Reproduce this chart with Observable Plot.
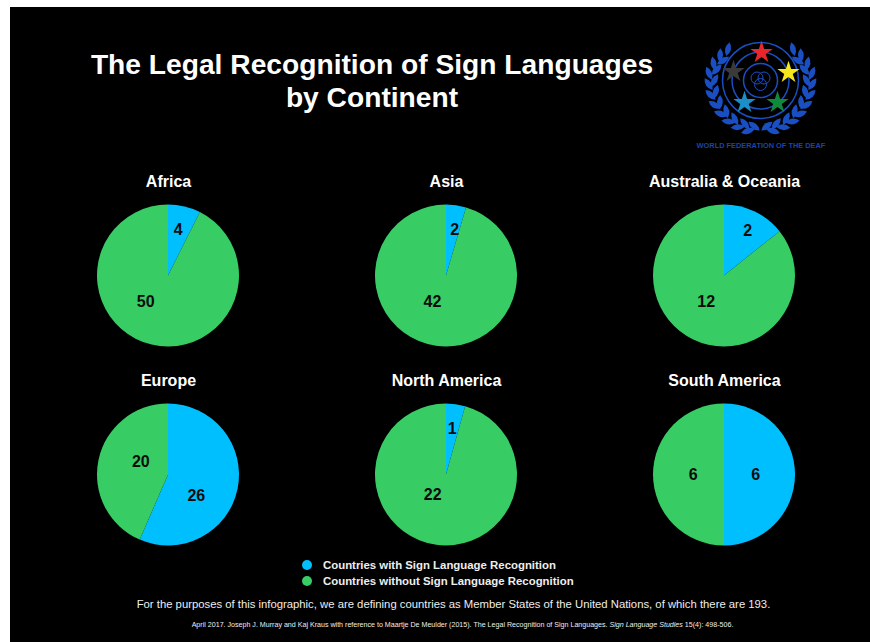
<!DOCTYPE html>
<html>
<head>
<meta charset="utf-8">
<script src="https://cdn.jsdelivr.net/npm/d3@7"></script>
<script src="https://cdn.jsdelivr.net/npm/@observablehq/plot@0.6"></script>
<style>
  html, body { margin: 0; background: #fff; }
  body { width: 870px; height: 642px; overflow: hidden; position: relative; font-family: "Liberation Sans", Arial, sans-serif; }
  #panel { position: absolute; left: 10px; top: 7px; width: 860px; height: 635px; background: #000; }
  #title { position: absolute; left: 60px; width: 624px; top: 48px; text-align: center; color: #fff; font-weight: bold; font-size: 28.2px; line-height: 33px; }
  #logo, #pies { position: absolute; }
  #logo { left: 680px; top: 20px; }
  #pies { left: 0; top: 166px; }
  .legend { position: absolute; left: 323px; color: #eee; font-weight: bold; font-size: 11.4px; line-height: 14px; white-space: nowrap; }
  .swatch { position: absolute; left: 302px; width: 10px; height: 10px; border-radius: 50%; }
  .note { position: absolute; left: 0; width: 907px; text-align: center; color: #eee; white-space: nowrap; }
</style>
</head>
<body>
<div id="panel"></div>
<div id="title">The Legal Recognition of Sign Languages<br>by Continent</div>
<div id="logo"></div>
<div id="pies"></div>
<div id="legend"></div>
<div class="note" style="top:597px;font-size:11.3px;line-height:15px;">For the purposes of this infographic, we are defining countries as Member States of the United Nations, of which there are 193.</div>
<div class="note" style="left:9px;top:620px;font-size:7.1px;line-height:10px;">April 2017. Joseph J. Murray and Kaj Kraus with reference to Maartje De Meulder (2015). The Legal Recognition of Sign Languages. <i>Sign Language Studies</i> 15(4): 498-506.</div>
<script>
// Country counts per continent
const continents = ["Africa", "Asia", "Australia & Oceania", "Europe", "North America", "South America"];
const withRecognition = [4, 2, 2, 26, 1, 6];
const withoutRecognition = [50, 42, 12, 20, 22, 6];
const statuses = ["Countries with Sign Language Recognition", "Countries without Sign Language Recognition"];
const statusColors = ["#00bfff", "#37cd64"];

// Hand placement of the count labels: bearing in degrees and share of the radius
const withLabelBearing = [12, 10, 27, 127, 7, 90];
const withLabelReach = [0.66, 0.66, 0.72, 0.49, 0.65, 0.44];
const withoutLabelBearing = [221, 208, 215, 295, 215, 270];
const withoutLabelReach = [0.49, 0.42, 0.45, 0.43, 0.34, 0.44];

const COLS = 3;
const pie = d3.pie().sort(null);
const slices = continents.flatMap((continent, i) => {
  const arcs = pie([withRecognition[i], withoutRecognition[i]]);
  const bearings = [withLabelBearing[i], withoutLabelBearing[i]];
  const reaches = [withLabelReach[i], withoutLabelReach[i]];
  return arcs.map((a, j) => {
    const t = bearings[j] * Math.PI / 180;
    return {
      continent, status: statuses[j], count: a.value,
      startAngle: a.startAngle, endAngle: a.endAngle,
      col: i % COLS, row: Math.floor(i / COLS),
      labelX: reaches[j] * Math.sin(t), labelY: reaches[j] * Math.cos(t)
    };
  });
});
const heads = continents.map((continent, i) => ({continent, col: i % COLS, row: Math.floor(i / COLS)}));

// Plot has no pie mark, so the wedges are rendered from a dot mark's channels
function wedges(index, scales, values) {
  const radius = Math.abs(scales.x(1) - scales.x(0));
  const arc = d3.arc().innerRadius(0).outerRadius(radius);
  const g = d3.create("svg:g").attr("transform", `translate(${scales.x(0)},${scales.y(0)})`);
  for (const i of index) {
    g.append("path").attr("d", arc(slices[i])).attr("fill", values.fill[i]);
  }
  return g.node();
}

const cellW = 278, cellH = 199, unit = 71;
const pies = Plot.plot({
  width: 870, height: cellH * 2 + 10,
  marginLeft: 29, marginRight: 7, marginTop: 10, marginBottom: 0,
  style: {background: "transparent", fontFamily: "'Liberation Sans', Arial, sans-serif"},
  fx: {axis: null, domain: [0, 1, 2], padding: 0},
  fy: {axis: null, domain: [0, 1], padding: 0},
  x: {axis: null, domain: [-cellW / 2 / unit, cellW / 2 / unit]},
  y: {axis: null, domain: [-cellH / 2 / unit, cellH / 2 / unit]},
  color: {domain: statuses, range: statusColors},
  marks: [
    Plot.dot(slices, {x: () => 0, y: () => 0, fx: "col", fy: "row", fill: "status", render: wedges}),
    Plot.text(slices, {x: "labelX", y: "labelY", fx: "col", fy: "row", text: "count", fill: "#0b0b0b", fontSize: 16, fontWeight: "bold"}),
    Plot.text(heads, {x: () => 0, y: () => 94 / unit, fx: "col", fy: "row", text: "continent", fill: "#fff", fontSize: 16, fontWeight: "bold"})
  ]
});
document.getElementById("pies").append(pies);

// Legend beneath the pies
const legendTops = [558, 574];
document.getElementById("legend").innerHTML = statuses.map((s, i) =>
  `<div class="swatch" style="top:${legendTops[i] + 2}px;background:${statusColors[i]}"></div>` +
  `<div class="legend" style="top:${legendTops[i]}px">${s}</div>`).join("");

// Emblem: rings, five stars and a laurel wreath of leaf-shaped dots
const emblemBlue = "#1a4fc4";
const leafShape = {draw(ctx, size) {
  const l = Math.sqrt(size), w = l * 0.42;
  ctx.moveTo(0, -l / 2);
  ctx.quadraticCurveTo(w, 0, 0, l / 2);
  ctx.quadraticCurveTo(-w, 0, 0, -l / 2);
  ctx.closePath();
}};
// Bearings clockwise from the top of the wreath, mirrored on both sides;
// the sprig tightens towards its tip
const outerLeaves = [46, 58, 70, 82, 94, 106, 118, 130, 142, 154, 166];
const innerLeaves = [62, 76, 90, 104, 118, 132, 146, 160, 172];
const sprig = (side, a, R, lean) => {
  const t = a * Math.PI / 180;
  const tight = Math.max(0, 80 - a) * 0.2;
  return {x: side * (R - tight) * Math.sin(t), y: (R - tight) * Math.cos(t), rotate: side * (a - 90 + lean)};
};
const leaves = [-1, 1].flatMap(side => [
  ...outerLeaves.map(a => sprig(side, a, 52, 30)),
  ...innerLeaves.map(a => sprig(side, a, 46, -30))
]);
const rings = [{r: 38}, {r: 28.5}, {r: 17}];
const knot = [{x: -3.5, y: 2.5}, {x: 3.5, y: 2.5}, {x: 0, y: -4}];
const stars = [
  {x: 1, y: 28, c: "#e8262b"}, {x: 28, y: 8, c: "#f6e71d"}, {x: 17, y: -22, c: "#0f8a3c"},
  {x: -16, y: -22, c: "#1c8fc9"}, {x: -27, y: 9, c: "#3a3a3a"}
];
const emblem = Plot.plot({
  width: 170, height: 140, margin: 0,
  style: {background: "transparent", fontFamily: "'Liberation Sans', Arial, sans-serif"},
  x: {axis: null, domain: [-80, 90]},
  y: {axis: null, domain: [-80, 60]},
  marks: [
    Plot.dot(leaves, {x: "x", y: "y", rotate: "rotate", symbol: leafShape, r: 8, fill: emblemBlue}),
    Plot.dot(rings, {x: () => 0, y: () => 0, r: "r", stroke: emblemBlue, strokeWidth: 1.5, fill: "none"}),
    Plot.dot(knot, {x: "x", y: "y", r: 6, stroke: emblemBlue, strokeWidth: 1, fill: "none"}),
    Plot.dot(stars, {x: "x", y: "y", symbol: "star", r: 7, fill: "c"}),
    Plot.text(["WORLD FEDERATION OF THE DEAF"], {x: () => 0.5, y: () => -65, fill: "#1a44a8", fontSize: 7.4, fontWeight: "bold"})
  ],
  r: {type: "identity"},
  color: {type: "identity"}
});
document.getElementById("logo").append(emblem);
</script>
</body>
</html>
